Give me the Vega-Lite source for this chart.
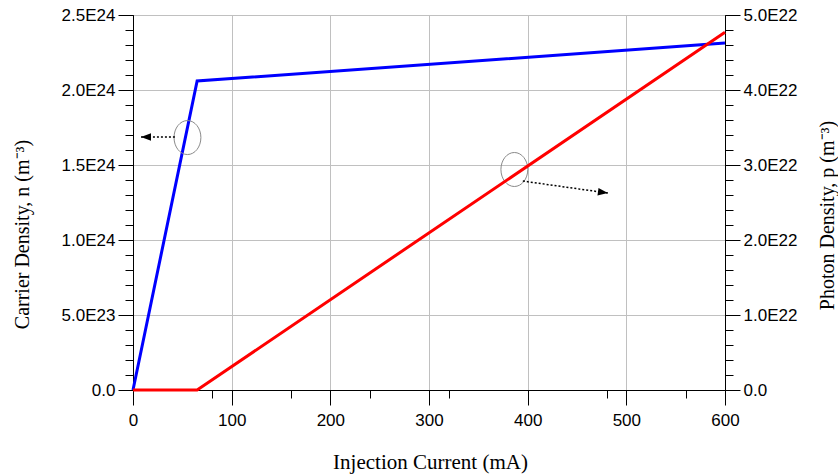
{
  "$schema": "https://vega.github.io/schema/vega-lite/v6.json",
  "width": 592,
  "height": 375,
  "autosize": "none",
  "padding": {"left": 133, "top": 15, "right": 113, "bottom": 85},
  "background": "white",
  "config": {
    "view": {"stroke": "black", "strokeWidth": 1},
    "axis": {
      "labelFont": "Liberation Sans",
      "labelFontSize": 17,
      "labelColor": "black",
      "titleFont": "Liberation Serif",
      "titleFontSize": 20,
      "titleFontWeight": "normal",
      "titleColor": "black",
      "domainColor": "black",
      "domainWidth": 1,
      "tickColor": "black",
      "tickWidth": 1,
      "gridColor": "#c0c0c0",
      "gridWidth": 1,
      "labelFlush": false,
      "labelOverlap": false
    }
  },
  "datasets": {
    "carrier": [
      {"current": 0, "n": 0},
      {"current": 65, "n": 2.06e24},
      {"current": 600, "n": 2.313e24}
    ],
    "photon": [
      {"current": 0, "p": 0},
      {"current": 65, "p": 0},
      {"current": 600, "p": 4.77e22}
    ],
    "ellipses": [
      {"current": 55.2, "n": 1.683e24},
      {"current": 386.5, "n": 1.47e24}
    ],
    "arrows": [
      {"id": "n", "current": 42.5, "current2": 8.1, "n": 1.687e24, "n2": 1.687e24},
      {"id": "p", "current": 395.1, "current2": 481.3, "n": 1.393e24, "n2": 1.313e24}
    ]
  },
  "resolve": {"scale": {"y": "independent"}, "axis": {"x": "independent"}},
  "layer": [
    {
      "resolve": {"axis": {"y": "independent"}},
      "layer": [
        {
          "data": {"name": "carrier"},
          "mark": {"type": "line", "color": "#0000ff", "strokeWidth": 3},
          "encoding": {
            "x": {
              "field": "current", "type": "quantitative",
              "scale": {"domain": [0, 600], "nice": false},
              "axis": {
                "orient": "bottom",
                "values": [0, 100, 200, 300, 400, 500, 600],
                "tickSize": 15, "labelPadding": 7, "grid": true,
                "title": "Injection Current (mA)",
                "titleFontSize": 21,
                "titleX": 297, "titleY": 72,
                "titleAlign": "center", "titleBaseline": "middle"
              }
            },
            "y": {
              "field": "n", "type": "quantitative",
              "scale": {"domain": [0, 2.5e24], "nice": false},
              "axis": {
                "orient": "left",
                "values": [0, 5e23, 1e24, 1.5e24, 2e24, 2.5e24],
                "tickSize": 15, "labelPadding": 3, "grid": true,
                "labelExpr": "datum.value == 0 ? '0.0' : replace(upper(format(datum.value, '.1e')), '+', '')",
                "title": "Carrier Density, n (m⁻³)",
                "titleAngle": 270, "titleX": -111, "titleY": 219,
                "titleAlign": "center", "titleBaseline": "middle"
              }
            }
          }
        },
        {
          "data": {"name": "ellipses"},
          "mark": {
            "type": "point",
            "shape": "M -0.79 0 A 0.79 1 0 1 0 0.79 0 A 0.79 1 0 1 0 -0.79 0 Z",
            "size": 1156,
            "filled": false,
            "stroke": "#8a8a8a",
            "strokeWidth": 1,
            "opacity": 1
          },
          "encoding": {
            "x": {"field": "current", "type": "quantitative"},
            "y": {
              "field": "n", "type": "quantitative",
              "axis": {
                "orient": "left",
                "values": [0, 1e23, 2e23, 3e23, 4e23, 5e23, 6e23, 7e23, 8e23, 9e23, 1e24, 1.1e24, 1.2e24, 1.3e24, 1.4e24, 1.5e24, 1.6e24, 1.7e24, 1.8e24, 1.9e24, 2e24, 2.1e24, 2.2e24, 2.3e24, 2.4e24, 2.5e24],
                "tickSize": 8, "labels": false, "domain": false, "grid": false, "title": null
              }
            }
          }
        },
        {
          "data": {"name": "arrows"},
          "mark": {"type": "rule", "color": "black", "strokeWidth": 1.5, "strokeDash": [2, 2]},
          "encoding": {
            "x": {"field": "current", "type": "quantitative"},
            "x2": {"field": "current2"},
            "y": {"field": "n", "type": "quantitative", "axis": null},
            "y2": {"field": "n2"}
          }
        },
        {
          "data": {"name": "arrows"},
          "transform": [{"filter": "datum.id == 'n'"}],
          "mark": {"type": "point", "shape": "M 0 0 L -1 -0.38 L -1 0.38 Z", "size": 400, "filled": true, "color": "black", "opacity": 1, "angle": 180},
          "encoding": {
            "x": {"field": "current2", "type": "quantitative"},
            "y": {"field": "n2", "type": "quantitative", "axis": null}
          }
        },
        {
          "data": {"name": "arrows"},
          "transform": [{"filter": "datum.id == 'p'"}],
          "mark": {"type": "point", "shape": "M 0 0 L -1 -0.38 L -1 0.38 Z", "size": 400, "filled": true, "color": "black", "opacity": 1, "angle": 8},
          "encoding": {
            "x": {"field": "current2", "type": "quantitative"},
            "y": {"field": "n2", "type": "quantitative", "axis": null}
          }
        }
      ]
    },
    {
      "resolve": {"axis": {"y": "independent"}},
      "layer": [
        {
          "data": {"name": "photon"},
          "mark": {"type": "line", "color": "#ff0000", "strokeWidth": 3},
          "encoding": {
            "x": {
              "field": "current", "type": "quantitative",
              "axis": {
                "orient": "bottom",
                "values": [0, 20, 40, 60, 80, 100, 120, 140, 160, 180, 200, 220, 240, 260, 280, 300, 320, 340, 360, 380, 400, 420, 440, 460, 480, 500, 520, 540, 560, 580, 600],
                "tickSize": 8, "labels": false, "domain": false, "grid": false, "title": null
              }
            },
            "y": {
              "field": "p", "type": "quantitative",
              "scale": {"domain": [0, 5e22], "nice": false},
              "axis": {
                "orient": "right",
                "values": [0, 1e22, 2e22, 3e22, 4e22, 5e22],
                "tickSize": 15, "labelPadding": 3, "grid": false,
                "labelExpr": "datum.value == 0 ? '0.0' : replace(upper(format(datum.value, '.1e')), '+', '')",
                "title": "Photon Density, p (m⁻³)",
                "titleAngle": 270, "titleX": 102, "titleY": 200,
                "titleAlign": "center", "titleBaseline": "middle"
              }
            }
          }
        },
        {
          "data": {"name": "photon"},
          "mark": {"type": "line", "opacity": 0},
          "encoding": {
            "x": {"field": "current", "type": "quantitative"},
            "y": {
              "field": "p", "type": "quantitative",
              "axis": {
                "orient": "right",
                "values": [0, 2e21, 4e21, 6e21, 8e21, 1e22, 1.2e22, 1.4e22, 1.6e22, 1.8e22, 2e22, 2.2e22, 2.4e22, 2.6e22, 2.8e22, 3e22, 3.2e22, 3.4e22, 3.6e22, 3.8e22, 4e22, 4.2e22, 4.4e22, 4.6e22, 4.8e22, 5e22],
                "tickSize": 8, "labels": false, "domain": false, "grid": false, "title": null
              }
            }
          }
        }
      ]
    }
  ]
}
